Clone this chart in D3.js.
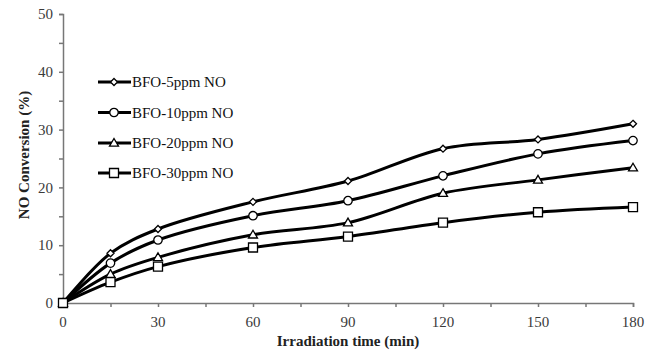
<!DOCTYPE html>
<html><head><meta charset="utf-8">
<script src="https://cdn.jsdelivr.net/npm/d3@7"></script>
<style>body{margin:0;background:#fff}svg{display:block}</style>
</head><body>
<svg id="c" width="656" height="355"></svg>
<script>
const times = [0, 15, 30, 60, 90, 120, 150, 180];
const seriesNames = ["BFO-5ppm NO", "BFO-10ppm NO", "BFO-20ppm NO", "BFO-30ppm NO"];
const ppm5  = [0, 8.6, 12.8, 17.5, 21.1, 26.7, 28.3, 31.0];
const ppm10 = [0, 6.9, 10.9, 15.1, 17.7, 22.0, 25.8, 28.1];
const ppm20 = [0, 5.0, 7.9, 11.8, 13.9, 19.0, 21.3, 23.4];
const ppm30 = [0, 3.6, 6.3, 9.6, 11.5, 13.9, 15.7, 16.6];
const markers = ["diamond", "circle", "triangle", "square"];
const xTicks = [0, 30, 60, 90, 120, 150, 180];
const yTicks = [0, 10, 20, 30, 40, 50];

const series = [ppm5, ppm10, ppm20, ppm30];
const svg = d3.select("#c");
const x = d3.scaleLinear().domain([0, 180]).range([63, 633]);
const y = d3.scaleLinear().domain([0, 50]).range([303, 14]);
const font = "'Liberation Serif', 'Times New Roman', serif";
const axisCol = "#777";

// y axis
const ya = svg.append("g").attr("transform", "translate(63,0)")
  .call(d3.axisLeft(y).tickValues(d3.range(0, 51, 5)).tickSize(4).tickFormat(""));
ya.select(".domain").attr("stroke", axisCol).attr("stroke-width", 1.5);
ya.selectAll(".tick line").attr("stroke", axisCol).attr("stroke-width", 1.5);
svg.append("g").selectAll("text").data(yTicks).join("text")
  .attr("x", 53).attr("y", d => y(d)).attr("dy", "0.35em")
  .attr("text-anchor", "end").attr("font-family", font).attr("font-size", 15)
  .attr("fill", "#3a3a3a").text(d => d);

// x axis
const xa = svg.append("g").attr("transform", "translate(0,303)")
  .call(d3.axisBottom(x).tickValues(d3.range(0, 181, 15)).tickSize(4).tickFormat(""));
xa.select(".domain").attr("stroke", axisCol).attr("stroke-width", 1.5);
xa.selectAll(".tick line").attr("stroke", axisCol).attr("stroke-width", 1.5);
svg.append("g").selectAll("text").data(xTicks).join("text")
  .attr("x", d => x(d)).attr("y", 327)
  .attr("text-anchor", "middle").attr("font-family", font).attr("font-size", 15)
  .attr("fill", "#3a3a3a").text(d => d);

// titles
svg.append("text").attr("x", 348).attr("y", 346).attr("text-anchor", "middle")
  .attr("font-family", font).attr("font-size", 15).attr("font-weight", "bold")
  .attr("fill", "#222").text("Irradiation time (min)");
svg.append("text").attr("transform", "translate(29,155) rotate(-90)")
  .attr("text-anchor", "middle")
  .attr("font-family", font).attr("font-size", 15).attr("font-weight", "bold")
  .attr("fill", "#222").text("NO Conversion (%)");

function drawMarker(g, type, cx, cy) {
  const s = g.append("path").attr("fill", "#fff").attr("stroke", "#000").attr("stroke-width", 1.3)
    .attr("transform", `translate(${cx},${cy})`);
  if (type === "diamond") s.attr("d", "M0,-3.5L3.5,0L0,3.5L-3.5,0Z");
  else if (type === "circle") s.attr("d", d3.symbol(d3.symbolCircle, 56)());
  else if (type === "triangle") s.attr("d", "M0,-4.5L4.5,3.2L-4.5,3.2Z");
  else s.attr("d", "M-4.5,-4.5H4.5V4.5H-4.5Z");
}

const line = d3.line().x(d => x(d[0])).y(d => y(d[1])).curve(d3.curveCatmullRom.alpha(0.5));
series.forEach((vals, i) => {
  const pts = times.map((t, j) => [t, vals[j]]);
  svg.append("path").attr("d", line(pts)).attr("fill", "none")
    .attr("stroke", "#000").attr("stroke-width", 3);
});
series.forEach((vals, i) => {
  const g = svg.append("g");
  times.forEach((t, j) => drawMarker(g, markers[i], x(t), y(vals[j])));
});

// legend
const legY = [82, 112.5, 143, 173];
seriesNames.forEach((name, i) => {
  svg.append("line").attr("x1", 98).attr("x2", 131).attr("y1", legY[i]).attr("y2", legY[i])
    .attr("stroke", "#000").attr("stroke-width", 3);
  drawMarker(svg.append("g"), markers[i], 114, legY[i]);
  svg.append("text").attr("x", 132).attr("y", legY[i]).attr("dy", "0.35em")
    .attr("font-family", font).attr("font-size", 15).attr("fill", "#111").text(name);
});
</script>
</body></html>
